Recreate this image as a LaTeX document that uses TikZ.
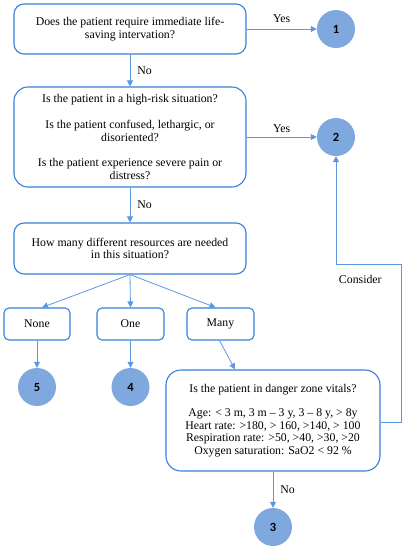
\documentclass[tikz,border=0pt]{standalone}
\usepackage{fontspec}
\setmainfont{Liberation Serif}
\newfontfamily\numfont{Carlito}
\usetikzlibrary{arrows.meta}
\definecolor{boxblue}{HTML}{3580DA}
\definecolor{lineblue}{HTML}{5C98E0}
\definecolor{circfill}{HTML}{7FA8DF}
\tikzset{
  qbox/.style={draw=boxblue, line width=1.1pt, fill=white, align=center, font=\fontsize{11.8}{12.6}\selectfont, inner sep=2pt},
  smallbox/.style={qbox, rounded corners=5pt, minimum width=66pt, minimum height=32pt},
  endcirc/.style={circle, fill=circfill, minimum size=38pt, inner sep=0pt, font=\numfont\bfseries\fontsize{12.5}{14}\selectfont},
  conn/.style={draw=lineblue, line width=0.8pt, -{Triangle[length=6pt,width=6pt]}},
  lab/.style={font=\fontsize{11.8}{12.6}\selectfont, inner sep=1pt}
}
\begin{document}
\begin{tikzpicture}[x=1pt,y=-1pt]
\useasboundingbox (0,0) rectangle (405,550);
% boxes
\node[qbox, rounded corners=10pt, minimum width=232pt, minimum height=50pt] (q1) at (130,29)
  {Does the patient require immediate life-\\saving intervation?};
\node[qbox, rounded corners=14pt, minimum width=232pt, minimum height=100pt] (q2) at (130,137)
  {Is the patient in a high-risk situation?\\[13pt]Is the patient confused, lethargic, or\\disoriented?\\[13pt]Is the patient experience severe pain or\\distress?};
\node[qbox, rounded corners=10pt, minimum width=232pt, minimum height=51pt] (q3) at (130,248.5)
  {How many different resources are needed\\in this situation?};
\node[smallbox] (none) at (37,324) {None};
\node[smallbox, minimum width=67pt] (one) at (130.5,324) {One};
\node[smallbox, minimum width=67pt] (many) at (220.5,324) {Many};
\node[qbox, rounded corners=15pt, minimum width=214pt, minimum height=101pt] (q4) at (273,420.5)
  {Is the patient in danger zone vitals?\\[12pt]Age: < 3 m, 3 m -- 3 y, 3 -- 8 y, > 8y\\Heart rate: >180, > 160, >140, > 100\\Respiration rate: >50, >40, >30, >20\\Oxygen saturation: SaO2 < 92 \%};
% circles
\node[endcirc] (c1) at (336,29) {1};
\node[endcirc] (c2) at (336,137) {2};
\node[endcirc] (c5) at (37,387) {5};
\node[endcirc] (c4) at (130.5,387) {4};
\node[endcirc] (c3) at (273,527) {3};
% connectors
\draw[conn] (q1.east) -- (c1.west) node[lab, midway, above=5pt] {Yes};
\draw[conn] (q1.south) -- (q2.north) node[lab, midway, right=6pt] {No};
\draw[conn] (q2.east |- c2) -- (c2.west) node[lab, midway, above=3pt] {Yes};
\draw[conn] (q2.south) -- (q3.north) node[lab, midway, right=6pt] {No};
\draw[conn] (q3.south) -- ([xshift=5pt]none.north);
\draw[conn] (q3.south) -- (one.north);
\draw[conn] (q3.south) -- ([xshift=-5pt]many.north);
\draw[conn] (none.south) -- (c5.north);
\draw[conn] (one.south) -- (c4.north);
\draw[conn] ([xshift=-1pt]many.south) -- ([xshift=-38pt]q4.north);
\draw[conn] (q4.south) -- (c3.north) node[lab, midway, right=6pt] {No};
\coordinate (k1) at (401,422);
\coordinate (k2) at (401,264);
\draw[conn] (q4.east |- k1) -- (k1) -- (k2) node[lab, pos=0.9, left=18pt] {Consider} -- (k2 -| c2) -- (c2.south);
\end{tikzpicture}
\end{document}
